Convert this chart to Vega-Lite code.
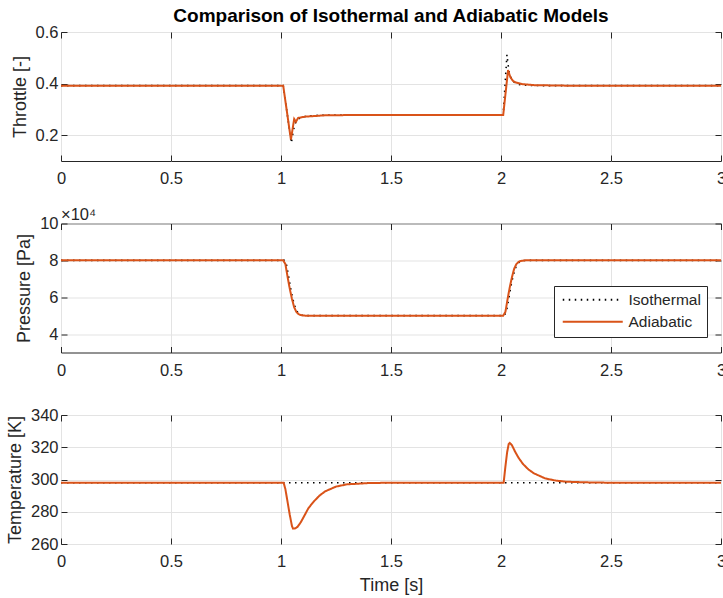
{
  "$schema": "https://vega.github.io/schema/vega-lite/v6.json",
  "autosize": {"type": "pad"},
  "padding": {"left": 5, "top": 6, "right": 0, "bottom": 0},
  "background": "white",
  "title": {"text": "Comparison of Isothermal and Adiabatic Models", "fontSize": 19, "fontWeight": "bold", "font": "Liberation Sans", "color": "#000000", "anchor": "middle", "offset": -2, "dx": 25},
  "config": {
    "font": "Liberation Sans",
    "view": {"stroke": "#262626", "strokeWidth": 1},
    "axis": {
      "labelFont": "Liberation Sans", "labelFontSize": 16.5, "labelColor": "#262626",
      "titleFont": "Liberation Sans", "titleFontSize": 18, "titleFontWeight": "normal", "titleColor": "#262626",
      "gridColor": "#e3e3e3", "gridWidth": 1, "tickColor": "#262626", "tickSize": 6, "domain": false,
      "labelFlush": false, "labelOverlap": false, "labelBound": false
    },
    "axisX": {"labelPadding": 9.5, "titlePadding": 6},
    "axisY": {"labelPadding": 3, "titlePadding": 6}
  },
  "datasets": {
    "throttle": [
      {"t": 0, "model": "Isothermal", "value": 0.392},
      {"t": 1.01, "model": "Isothermal", "value": 0.392},
      {"t": 1.047, "model": "Isothermal", "value": 0.17},
      {"t": 1.055, "model": "Isothermal", "value": 0.212},
      {"t": 1.062, "model": "Isothermal", "value": 0.24},
      {"t": 1.07, "model": "Isothermal", "value": 0.256},
      {"t": 1.08, "model": "Isothermal", "value": 0.264},
      {"t": 1.095, "model": "Isothermal", "value": 0.27},
      {"t": 1.125, "model": "Isothermal", "value": 0.275},
      {"t": 1.2, "model": "Isothermal", "value": 0.278},
      {"t": 2.01, "model": "Isothermal", "value": 0.278},
      {"t": 2.027, "model": "Isothermal", "value": 0.512},
      {"t": 2.032, "model": "Isothermal", "value": 0.475},
      {"t": 2.038, "model": "Isothermal", "value": 0.44},
      {"t": 2.05, "model": "Isothermal", "value": 0.412},
      {"t": 2.07, "model": "Isothermal", "value": 0.399},
      {"t": 2.1, "model": "Isothermal", "value": 0.394},
      {"t": 2.2, "model": "Isothermal", "value": 0.392},
      {"t": 3, "model": "Isothermal", "value": 0.392},
      {"t": 0, "model": "Adiabatic", "value": 0.392},
      {"t": 1.01, "model": "Adiabatic", "value": 0.392},
      {"t": 1.045, "model": "Adiabatic", "value": 0.183},
      {"t": 1.06, "model": "Adiabatic", "value": 0.263},
      {"t": 1.068, "model": "Adiabatic", "value": 0.252},
      {"t": 1.078, "model": "Adiabatic", "value": 0.267},
      {"t": 1.11, "model": "Adiabatic", "value": 0.272},
      {"t": 1.2, "model": "Adiabatic", "value": 0.277},
      {"t": 1.3, "model": "Adiabatic", "value": 0.278},
      {"t": 2.01, "model": "Adiabatic", "value": 0.278},
      {"t": 2.032, "model": "Adiabatic", "value": 0.452},
      {"t": 2.043, "model": "Adiabatic", "value": 0.424},
      {"t": 2.055, "model": "Adiabatic", "value": 0.41},
      {"t": 2.065, "model": "Adiabatic", "value": 0.405},
      {"t": 2.095, "model": "Adiabatic", "value": 0.398},
      {"t": 2.15, "model": "Adiabatic", "value": 0.394},
      {"t": 2.3, "model": "Adiabatic", "value": 0.392},
      {"t": 3, "model": "Adiabatic", "value": 0.392}
    ],
    "pressure": [
      {"t": 0, "model": "Isothermal", "value": 80000},
      {"t": 1.015, "model": "Isothermal", "value": 80000},
      {"t": 1.025, "model": "Isothermal", "value": 77500},
      {"t": 1.035, "model": "Isothermal", "value": 71000},
      {"t": 1.045, "model": "Isothermal", "value": 64000},
      {"t": 1.055, "model": "Isothermal", "value": 58500},
      {"t": 1.065, "model": "Isothermal", "value": 54300},
      {"t": 1.075, "model": "Isothermal", "value": 51900},
      {"t": 1.085, "model": "Isothermal", "value": 50700},
      {"t": 1.095, "model": "Isothermal", "value": 50200},
      {"t": 1.115, "model": "Isothermal", "value": 50000},
      {"t": 2.015, "model": "Isothermal", "value": 50000},
      {"t": 2.025, "model": "Isothermal", "value": 52500},
      {"t": 2.035, "model": "Isothermal", "value": 59000},
      {"t": 2.045, "model": "Isothermal", "value": 66000},
      {"t": 2.055, "model": "Isothermal", "value": 71500},
      {"t": 2.065, "model": "Isothermal", "value": 75700},
      {"t": 2.075, "model": "Isothermal", "value": 78100},
      {"t": 2.085, "model": "Isothermal", "value": 79300},
      {"t": 2.095, "model": "Isothermal", "value": 79800},
      {"t": 2.115, "model": "Isothermal", "value": 80000},
      {"t": 3, "model": "Isothermal", "value": 80000},
      {"t": 0, "model": "Adiabatic", "value": 80000},
      {"t": 1.01, "model": "Adiabatic", "value": 80000},
      {"t": 1.02, "model": "Adiabatic", "value": 78000},
      {"t": 1.03, "model": "Adiabatic", "value": 71000},
      {"t": 1.04, "model": "Adiabatic", "value": 64500},
      {"t": 1.05, "model": "Adiabatic", "value": 59000},
      {"t": 1.06, "model": "Adiabatic", "value": 54500},
      {"t": 1.07, "model": "Adiabatic", "value": 52000},
      {"t": 1.08, "model": "Adiabatic", "value": 50800},
      {"t": 1.09, "model": "Adiabatic", "value": 50300},
      {"t": 1.11, "model": "Adiabatic", "value": 50000},
      {"t": 2.01, "model": "Adiabatic", "value": 50000},
      {"t": 2.02, "model": "Adiabatic", "value": 52000},
      {"t": 2.03, "model": "Adiabatic", "value": 59000},
      {"t": 2.04, "model": "Adiabatic", "value": 65500},
      {"t": 2.05, "model": "Adiabatic", "value": 71000},
      {"t": 2.06, "model": "Adiabatic", "value": 75500},
      {"t": 2.07, "model": "Adiabatic", "value": 78000},
      {"t": 2.08, "model": "Adiabatic", "value": 79200},
      {"t": 2.09, "model": "Adiabatic", "value": 79700},
      {"t": 2.11, "model": "Adiabatic", "value": 80000},
      {"t": 3, "model": "Adiabatic", "value": 80000}
    ],
    "temperature": [
      {"t": 0, "model": "Isothermal", "value": 298},
      {"t": 3, "model": "Isothermal", "value": 298},
      {"t": 0, "model": "Adiabatic", "value": 298},
      {"t": 1.012, "model": "Adiabatic", "value": 298},
      {"t": 1.02, "model": "Adiabatic", "value": 294},
      {"t": 1.03, "model": "Adiabatic", "value": 286},
      {"t": 1.04, "model": "Adiabatic", "value": 278},
      {"t": 1.05, "model": "Adiabatic", "value": 271},
      {"t": 1.055, "model": "Adiabatic", "value": 269.5},
      {"t": 1.065, "model": "Adiabatic", "value": 269.7},
      {"t": 1.075, "model": "Adiabatic", "value": 270.6},
      {"t": 1.09, "model": "Adiabatic", "value": 273.5},
      {"t": 1.1, "model": "Adiabatic", "value": 276},
      {"t": 1.125, "model": "Adiabatic", "value": 282.3},
      {"t": 1.15, "model": "Adiabatic", "value": 286.5},
      {"t": 1.175, "model": "Adiabatic", "value": 290},
      {"t": 1.2, "model": "Adiabatic", "value": 292.6},
      {"t": 1.25, "model": "Adiabatic", "value": 295.6},
      {"t": 1.3, "model": "Adiabatic", "value": 297},
      {"t": 1.4, "model": "Adiabatic", "value": 297.8},
      {"t": 1.5, "model": "Adiabatic", "value": 298},
      {"t": 2.012, "model": "Adiabatic", "value": 298},
      {"t": 2.02, "model": "Adiabatic", "value": 308},
      {"t": 2.028, "model": "Adiabatic", "value": 317},
      {"t": 2.035, "model": "Adiabatic", "value": 322},
      {"t": 2.04, "model": "Adiabatic", "value": 322.7},
      {"t": 2.05, "model": "Adiabatic", "value": 321.2},
      {"t": 2.065, "model": "Adiabatic", "value": 317},
      {"t": 2.08, "model": "Adiabatic", "value": 313.4},
      {"t": 2.1, "model": "Adiabatic", "value": 309.6},
      {"t": 2.125, "model": "Adiabatic", "value": 306.2},
      {"t": 2.15, "model": "Adiabatic", "value": 303.8},
      {"t": 2.2, "model": "Adiabatic", "value": 300.7},
      {"t": 2.25, "model": "Adiabatic", "value": 299.3},
      {"t": 2.3, "model": "Adiabatic", "value": 298.6},
      {"t": 2.4, "model": "Adiabatic", "value": 298.2},
      {"t": 2.5, "model": "Adiabatic", "value": 298},
      {"t": 3, "model": "Adiabatic", "value": 298}
    ]
  },
  "bounds": "flush",
  "spacing": 62.5,
  "resolve": {
    "scale": {"color": "independent", "strokeDash": "independent", "x": "independent", "y": "independent"},
    "legend": {"color": "independent", "strokeDash": "independent"}
  },
  "vconcat": [
    {
      "width": 660, "height": 129,
      "data": {"name": "throttle"},
      "resolve": {"axis": {"x": "independent", "y": "independent"}},
      "layer": [
        {
          "transform": [{"filter": "datum.model === 'Isothermal'"}],
          "mark": {"type": "line", "strokeWidth": 1.6, "strokeCap": "butt", "clip": true},
          "encoding": {
            "x": {"field": "t", "type": "quantitative", "scale": {"domain": [0, 3], "nice": false}, "axis": {"orient": "bottom", "values": [0, 0.5, 1, 1.5, 2, 2.5, 3], "format": "~g", "title": null, "grid": true, "ticks": false}},
            "y": {"field": "value", "type": "quantitative", "scale": {"domain": [0.1, 0.6], "nice": false, "zero": false}, "axis": {"orient": "left", "values": [0.2, 0.4, 0.6], "format": ".1f", "title": "Throttle [-]", "grid": true, "ticks": false}},
            "color": {"field": "model", "type": "nominal", "scale": {"domain": ["Isothermal", "Adiabatic"], "range": ["#000000", "#D95319"]}, "legend": null},
            "strokeDash": {"field": "model", "type": "nominal", "scale": {"domain": ["Isothermal", "Adiabatic"], "range": [[1.5, 4.5], [1, 0]]}, "legend": null}
          }
        },
        {
          "transform": [{"filter": "datum.model === 'Adiabatic'"}],
          "mark": {"type": "line", "strokeWidth": 2, "clip": true},
          "encoding": {
            "x": {"field": "t", "type": "quantitative", "axis": {"orient": "bottom", "values": [0, 0.5, 1, 1.5, 2, 2.5, 3], "labels": false, "grid": false, "title": null, "offset": -6}},
            "y": {"field": "value", "type": "quantitative", "axis": {"orient": "left", "values": [0.2, 0.4, 0.6], "labels": false, "grid": false, "title": null, "offset": -6}},
            "color": {"field": "model", "type": "nominal", "legend": null},
            "strokeDash": {"field": "model", "type": "nominal", "legend": null}
          }
        },
        {
          "mark": {"type": "line", "opacity": 0, "strokeOpacity": 0},
          "encoding": {
            "x": {"field": "t", "type": "quantitative", "axis": {"orient": "top", "values": [0, 0.5, 1, 1.5, 2, 2.5, 3], "labels": false, "grid": false, "title": null, "offset": -6}},
            "y": {"field": "value", "type": "quantitative", "axis": {"orient": "right", "values": [0.2, 0.4, 0.6], "labels": false, "grid": false, "title": null, "offset": -6}}
          }
        }
      ]
    },
    {
      "width": 660, "height": 129,
      "data": {"name": "pressure"},
      "title": {"text": "×10⁴", "anchor": "start", "frame": "group", "fontSize": 16.5, "fontWeight": "normal", "color": "#262626", "font": "Liberation Sans", "offset": -8},
      "resolve": {"axis": {"x": "independent", "y": "independent"}},
      "layer": [
        {
          "transform": [{"filter": "datum.model === 'Isothermal'"}],
          "mark": {"type": "line", "strokeWidth": 1.6, "strokeCap": "butt", "clip": true},
          "encoding": {
            "x": {"field": "t", "type": "quantitative", "scale": {"domain": [0, 3], "nice": false}, "axis": {"orient": "bottom", "values": [0, 0.5, 1, 1.5, 2, 2.5, 3], "format": "~g", "title": null, "grid": true, "ticks": false}},
            "y": {"field": "value", "type": "quantitative", "scale": {"domain": [30000, 100000], "nice": false, "zero": false}, "axis": {"orient": "left", "values": [40000, 60000, 80000, 100000], "labelExpr": "format(datum.value / 10000, 'd')", "title": "Pressure [Pa]", "grid": true, "ticks": false}},
            "color": {"field": "model", "type": "nominal", "title": null, "scale": {"domain": ["Isothermal", "Adiabatic"], "range": ["#000000", "#D95319"]},
              "legend": {"orient": "none", "legendX": 493, "legendY": 62.5, "direction": "vertical", "title": null, "symbolType": "M-1,0H11", "symbolSize": 100, "symbolStrokeWidth": 2, "labelFontSize": 15.5, "labelColor": "#262626", "labelFont": "Liberation Sans", "strokeColor": "#262626", "fillColor": "white", "padding": 6, "rowPadding": 5, "labelOffset": 53}},
            "strokeDash": {"field": "model", "type": "nominal", "title": null, "scale": {"domain": ["Isothermal", "Adiabatic"], "range": [[1.5, 4.5], [1, 0]]},
              "legend": {"orient": "none", "legendX": 493, "legendY": 62.5, "direction": "vertical", "title": null, "symbolType": "M-1,0H11", "symbolSize": 100, "symbolStrokeWidth": 2, "labelFontSize": 15.5, "labelColor": "#262626", "labelFont": "Liberation Sans", "strokeColor": "#262626", "fillColor": "white", "padding": 6, "rowPadding": 5, "labelOffset": 53}}
          }
        },
        {
          "transform": [{"filter": "datum.model === 'Adiabatic'"}],
          "mark": {"type": "line", "strokeWidth": 2, "clip": true},
          "encoding": {
            "x": {"field": "t", "type": "quantitative", "axis": {"orient": "bottom", "values": [0, 0.5, 1, 1.5, 2, 2.5, 3], "labels": false, "grid": false, "title": null, "offset": -6}},
            "y": {"field": "value", "type": "quantitative", "axis": {"orient": "left", "values": [40000, 60000, 80000, 100000], "labels": false, "grid": false, "title": null, "offset": -6}},
            "color": {"field": "model", "type": "nominal", "title": null},
            "strokeDash": {"field": "model", "type": "nominal", "title": null}
          }
        },
        {
          "mark": {"type": "line", "opacity": 0, "strokeOpacity": 0},
          "encoding": {
            "x": {"field": "t", "type": "quantitative", "axis": {"orient": "top", "values": [0, 0.5, 1, 1.5, 2, 2.5, 3], "labels": false, "grid": false, "title": null, "offset": -6}},
            "y": {"field": "value", "type": "quantitative", "axis": {"orient": "right", "values": [40000, 60000, 80000, 100000], "labels": false, "grid": false, "title": null, "offset": -6}}
          }
        }
      ]
    },
    {
      "width": 660, "height": 129,
      "data": {"name": "temperature"},
      "resolve": {"axis": {"x": "independent", "y": "independent"}},
      "layer": [
        {
          "transform": [{"filter": "datum.model === 'Isothermal'"}],
          "mark": {"type": "line", "strokeWidth": 1.6, "strokeCap": "butt", "clip": true},
          "encoding": {
            "x": {"field": "t", "type": "quantitative", "scale": {"domain": [0, 3], "nice": false}, "axis": {"orient": "bottom", "values": [0, 0.5, 1, 1.5, 2, 2.5, 3], "format": "~g", "title": "Time [s]", "grid": true, "ticks": false}},
            "y": {"field": "value", "type": "quantitative", "scale": {"domain": [260, 340], "nice": false, "zero": false}, "axis": {"orient": "left", "values": [260, 280, 300, 320, 340], "format": "d", "title": "Temperature [K]", "grid": true, "ticks": false}},
            "color": {"field": "model", "type": "nominal", "scale": {"domain": ["Isothermal", "Adiabatic"], "range": ["#000000", "#D95319"]}, "legend": null},
            "strokeDash": {"field": "model", "type": "nominal", "scale": {"domain": ["Isothermal", "Adiabatic"], "range": [[1.5, 4.5], [1, 0]]}, "legend": null}
          }
        },
        {
          "transform": [{"filter": "datum.model === 'Adiabatic'"}],
          "mark": {"type": "line", "strokeWidth": 2, "clip": true},
          "encoding": {
            "x": {"field": "t", "type": "quantitative", "axis": {"orient": "bottom", "values": [0, 0.5, 1, 1.5, 2, 2.5, 3], "labels": false, "grid": false, "title": null, "offset": -6}},
            "y": {"field": "value", "type": "quantitative", "axis": {"orient": "left", "values": [260, 280, 300, 320, 340], "labels": false, "grid": false, "title": null, "offset": -6}},
            "color": {"field": "model", "type": "nominal", "legend": null},
            "strokeDash": {"field": "model", "type": "nominal", "legend": null}
          }
        },
        {
          "mark": {"type": "line", "opacity": 0, "strokeOpacity": 0},
          "encoding": {
            "x": {"field": "t", "type": "quantitative", "axis": {"orient": "top", "values": [0, 0.5, 1, 1.5, 2, 2.5, 3], "labels": false, "grid": false, "title": null, "offset": -6}},
            "y": {"field": "value", "type": "quantitative", "axis": {"orient": "right", "values": [260, 280, 300, 320, 340], "labels": false, "grid": false, "title": null, "offset": -6}}
          }
        }
      ]
    }
  ]
}
